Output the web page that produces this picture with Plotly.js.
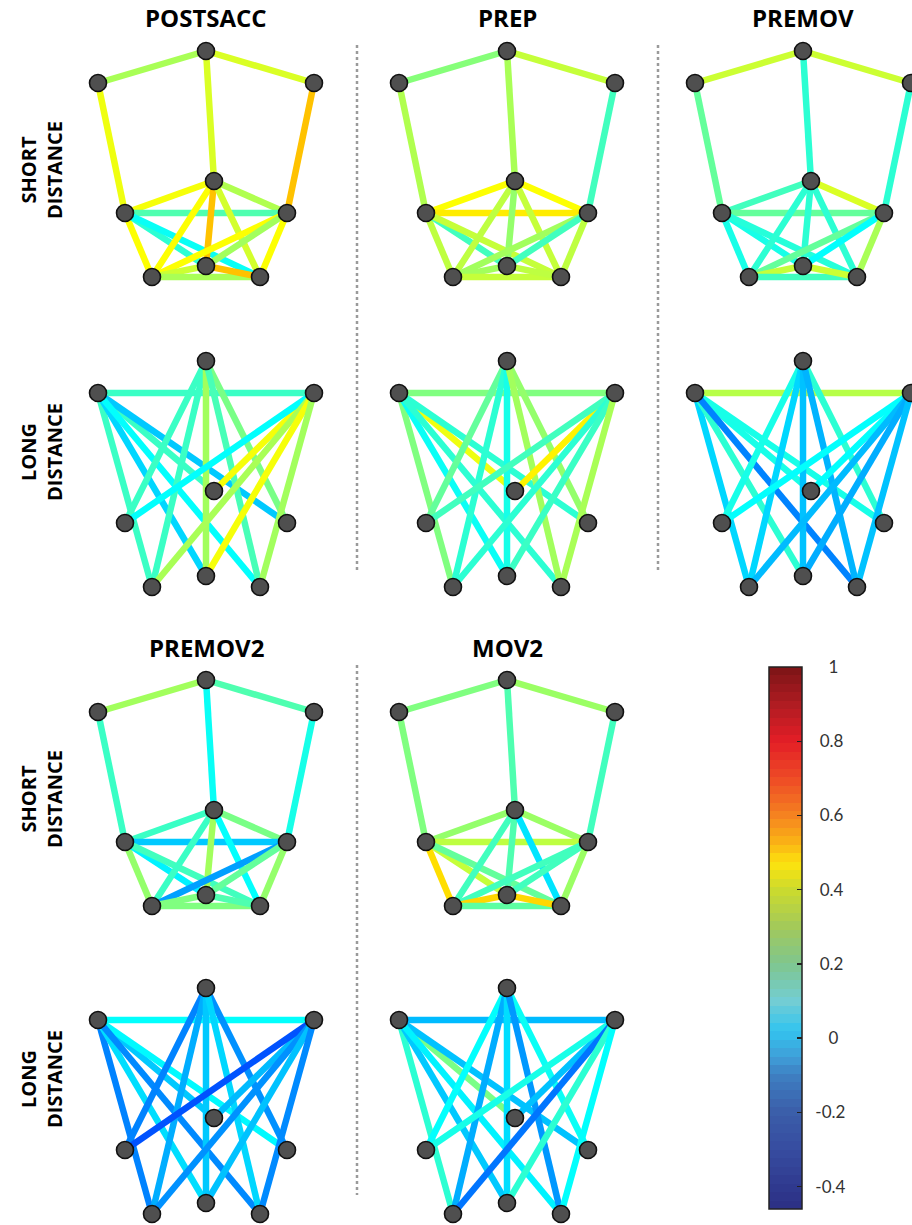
<!DOCTYPE html>
<html>
<head>
<meta charset="utf-8">
<script src="https://cdn.plot.ly/plotly-3.0.1.min.js"></script>
<style>html,body{margin:0;padding:0;background:#fff;}#chart{width:912px;height:1225px;}</style>
</head>
<body>
<div id="chart"></div>
<script>
// ---------- DATA ----------
// Node layout (9 electrodes), x right, y down, in panel units
const NODE_X = [-108, 0, 108, 8, -81, 81, -54, 0, 54];
const NODE_Y = [32, 0, 32, 130, 162, 162, 226, 215, 226];

// Edge definitions (node index pairs)
const SHORT_EDGES = [[0,1],[1,2],[0,4],[1,3],[2,5],[3,4],[3,5],[4,5],[4,6],[4,7],[4,8],[3,6],[3,7],[3,8],[5,6],[5,7],[5,8],[6,7],[6,8],[7,8]];
const LONG_EDGES  = [[0,2],[0,3],[0,5],[0,6],[0,7],[0,8],[1,4],[1,5],[1,6],[1,7],[1,8],[2,3],[2,4],[2,6],[2,7],[2,8]];

const CONDITIONS = ["POSTSACC", "PREP", "PREMOV", "PREMOV2", "MOV2"];
const ROW_LABELS = ["SHORT<br>DISTANCE", "LONG<br>DISTANCE"];

// Edge values (correlation) per condition
const POSTSACC_SHORT = [0.33,0.40,0.43,0.40,0.54,0.44,0.34,0.20,0.45,0.15,0.10,0.45,0.54,0.39,0.45,0.32,0.45,0.38,0.33,0.54];
const POSTSACC_LONG  = [0.17,0.17,0.01,0.17,0.03,0.09,0.17,0.26,0.17,0.32,0.19,0.44,0.09,0.33,0.44,0.32];
const PREP_SHORT     = [0.28,0.37,0.34,0.33,0.18,0.45,0.45,0.48,0.36,0.18,0.37,0.36,0.30,0.37,0.32,0.18,0.36,0.32,0.37,0.36];
const PREP_LONG      = [0.27,0.43,0.15,0.27,0.10,0.15,0.23,0.30,0.15,0.12,0.32,0.47,0.18,0.15,0.17,0.33];
const PREMOV_SHORT   = [0.38,0.38,0.23,0.15,0.15,0.18,0.40,0.23,0.12,0.12,0.14,0.15,0.15,0.15,0.23,0.09,0.33,0.37,0.18,0.38];
const PREMOV_LONG    = [0.35,0.12,0.12,0.03,0.15,-0.09,0.12,0.15,0.03,0.00,-0.02,0.09,0.09,-0.01,-0.03,0.00];
const PREMOV2_SHORT  = [0.32,0.20,0.17,0.10,0.12,0.17,0.26,0.01,0.30,0.07,0.18,0.17,0.32,0.09,-0.05,0.23,0.30,0.27,0.27,0.20];
const PREMOV2_LONG   = [0.09,0.01,0.08,-0.09,0.04,-0.08,-0.09,-0.07,-0.03,0.01,0.03,-0.01,-0.16,-0.07,0.00,-0.08];
const MOV2_SHORT     = [0.27,0.31,0.27,0.20,0.18,0.30,0.31,0.36,0.50,0.37,0.23,0.18,0.20,0.05,0.18,0.18,0.31,0.51,0.22,0.51];
const MOV2_LONG      = [-0.01,0.26,0.00,0.15,0.01,0.07,0.09,0.10,-0.03,0.04,-0.06,0.00,0.12,-0.11,0.15,0.09];

const VALUES = {
  POSTSACC: [POSTSACC_SHORT, POSTSACC_LONG],
  PREP: [PREP_SHORT, PREP_LONG],
  PREMOV: [PREMOV_SHORT, PREMOV_LONG],
  PREMOV2: [PREMOV2_SHORT, PREMOV2_LONG],
  MOV2: [MOV2_SHORT, MOV2_LONG]
};

const CMIN = -0.46, CMAX = 1.0;
const CB_TICKS = [-0.4,-0.2,0,0.2,0.4,0.6,0.8,1];
const CB_TICKTEXT = ["-0.4","-0.2","0","0.2","0.4","0.6","0.8","1"];

// ---------- LAYOUT / STYLE ----------
const W = 912, H = 1225;
const COL_CX = [206, 507, 803];
const GROUPS = [ // condition -> column, short-row top y, long-row top y
  {cond:"POSTSACC", col:0, tops:[51,361]},
  {cond:"PREP",     col:1, tops:[51,361]},
  {cond:"PREMOV",   col:2, tops:[51,361]},
  {cond:"PREMOV2",  col:0, tops:[680,988]},
  {cond:"MOV2",     col:1, tops:[680,988]}
];
const LABEL_OFFSET = [119, 91];
const FONT = "'Open Sans', Lato, sans-serif";

function jet(v){
  let t = (v - CMIN) / (CMAX - CMIN);
  t = Math.max(0, Math.min(1, t));
  const c = x => Math.round(255 * Math.max(0, Math.min(1, x)));
  return `rgb(${c(1.5-Math.abs(4*t-3))},${c(1.5-Math.abs(4*t-2))},${c(1.5-Math.abs(4*t-1))})`;
}

// muted colorbar scale, 64 discrete bands
const CB_STOPS = [
  [0.000,[43,47,132]],[0.110,[55,76,160]],[0.178,[59,94,169]],[0.247,[62,127,194]],
  [0.280,[63,158,216]],[0.330,[51,196,239]],[0.384,[115,205,211]],[0.452,[127,198,142]],
  [0.521,[163,201,90]],[0.589,[203,219,46]],[0.637,[253,227,14]],[0.671,[251,184,20]],
  [0.726,[245,130,32]],[0.795,[238,74,38]],[0.863,[227,30,38]],[0.930,[176,28,34]],[1.000,[123,20,22]]
];
function mutedAt(t){
  for (let i=1;i<CB_STOPS.length;i++){
    if (t <= CB_STOPS[i][0]){
      const [t0,c0] = CB_STOPS[i-1], [t1,c1] = CB_STOPS[i];
      const f = (t-t0)/(t1-t0);
      return `rgb(${c0.map((v,k)=>Math.round(v+(c1[k]-v)*f)).join(",")})`;
    }
  }
  return "rgb(123,20,22)";
}
const NB = 64;
const cbScale = [];
for (let i=0;i<NB;i++){
  const col = mutedAt((i+0.5)/NB);
  cbScale.push([i/NB, col]); cbScale.push([(i+1)/NB, col]);
}
// pad labels so they sit roughly centred in a column right of the bar
const NB_SP = "\u00a0";
const cbText = CB_TICKTEXT.map(s => NB_SP.repeat(s.length === 1 ? 5 : (s.startsWith("-") ? 2 : 3)) + s);

const traces = [];
const layout = {
  width: W, height: H,
  margin: {l:0, r:0, t:0, b:0},
  paper_bgcolor: "#fff", plot_bgcolor: "rgba(0,0,0,0)",
  showlegend: false,
  annotations: [], shapes: []
};

let p = 0;
GROUPS.forEach(g => {
  const cx = COL_CX[g.col];
  [0,1].forEach(row => {
    p++;
    const xa = p === 1 ? "x" : "x" + p, ya = p === 1 ? "y" : "y" + p;
    const xk = p === 1 ? "xaxis" : "xaxis" + p, yk = p === 1 ? "yaxis" : "yaxis" + p;
    const top = g.tops[row];
    const left = cx - 130, right = Math.min(cx + 130, W);
    const yT = top - 22, yB = Math.min(top + 236, H);
    layout[xk] = {domain:[left/W, right/W], range:[-130, right - cx], visible:false, fixedrange:true};
    layout[yk] = {domain:[1 - yB/H, 1 - yT/H], range:[yB - top, -22], visible:false, fixedrange:true};
    const edges = row === 0 ? SHORT_EDGES : LONG_EDGES;
    const vals = VALUES[g.cond][row];
    edges.forEach((e, k) => {
      traces.push({
        type:"scatter", mode:"lines", xaxis:xa, yaxis:ya,
        x:[NODE_X[e[0]], NODE_X[e[1]]], y:[NODE_Y[e[0]], NODE_Y[e[1]]],
        line:{color:jet(vals[k]), width:6.5}, hoverinfo:"skip"
      });
    });
    traces.push({
      type:"scatter", mode:"markers", xaxis:xa, yaxis:ya,
      x:NODE_X, y:NODE_Y,
      marker:{size:17, color:"#4f4f4f", line:{color:"#111", width:1.6}},
      hoverinfo:"skip"
    });
    if (row === 0){
      layout.annotations.push({
        text:"<b>"+g.cond+"</b>", xref:"paper", yref:"paper",
        x: cx/W, y: 1 - (top - 33)/H, xanchor:"center", yanchor:"middle",
        showarrow:false, font:{family:FONT, size:24, color:"#000", weight:800}
      });
    }
    if (g.col === 0){
      layout.annotations.push({
        text:"<b>"+ROW_LABELS[row]+"</b>", xref:"paper", yref:"paper",
        x: 41/W, y: 1 - (top + LABEL_OFFSET[row])/H, xanchor:"center", yanchor:"middle", textangle:-90,
        showarrow:false, font:{family:FONT, size:20, color:"#000", weight:800}
      });
    }
  });
});

// dotted separators
[[357,45,570],[658,45,570],[357,665,1195]].forEach(s => {
  layout.shapes.push({type:"line", xref:"paper", yref:"paper",
    x0:s[0]/W, x1:s[0]/W, y0:1-s[1]/H, y1:1-s[2]/H,
    line:{color:"#9a9a9a", width:2.5, dash:"dot"}});
});

// colorbar carrier
traces.push({
  type:"scatter", mode:"markers", x:[null,null], y:[null,null], xaxis:"x", yaxis:"y",
  marker:{color:[CMIN,CMAX], cmin:CMIN, cmax:CMAX, colorscale:cbScale, showscale:true, size:1,
    colorbar:{
      x:769/W, xanchor:"left", xpad:0, y:1-667/H, yanchor:"top", ypad:0,
      lenmode:"pixels", len:542, thicknessmode:"pixels", thickness:33,
      outlinewidth:1.5, outlinecolor:"#222",
      tickmode:"array", tickvals:CB_TICKS, ticktext:cbText,
      ticks:"inside", ticklen:5, tickwidth:1.5, tickcolor:"#222",
      tickfont:{family:"Lato, 'Open Sans', sans-serif", size:17, color:"#333"}
    }},
  hoverinfo:"skip"
});

Plotly.newPlot("chart", traces, layout, {staticPlot:true, displayModeBar:false});
</script>
</body>
</html>
